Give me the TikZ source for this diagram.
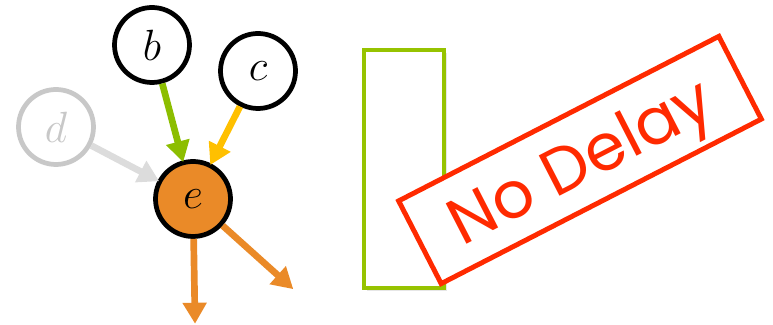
\documentclass[tikz,border=0pt]{standalone}
\usepackage{fontspec}
\newfontfamily\stampfont{Poppins}
\usepackage{tikz}
\usetikzlibrary{positioning}
\usetikzlibrary{arrows.meta}
\usetikzlibrary{shadows}

\definecolor{eorange}{RGB}{234,138,40}
\definecolor{bgreen}{RGB}{140,190,0}
\definecolor{slotgreen}{RGB}{150,195,0}
\definecolor{cyellow}{RGB}{255,192,0}
\definecolor{dgray}{RGB}{200,200,200}
\definecolor{dlight}{RGB}{220,220,220}
\definecolor{stampred}{RGB}{255,42,0}

\tikzset{
    var/.style={circle, draw=black, line width=2.7pt, fill=white, minimum size=1.5cm, inner sep=0pt, font=\fontsize{25}{28}\selectfont},
    edge/.style={line width=3.8pt, -{Triangle[length=0.42cm, width=0.46cm]}, shorten >=-1pt}
}

\begin{document}
\begin{tikzpicture}[on grid]
    \useasboundingbox (0,0) rectangle (15.46,6.5);

    \node [var, fill=eorange] (e) at (3.86,2.52) {$e$};
    \node [var, above left=3.08cm and 0.82cm of e] (b) {$b$};
    \node [var, above right=2.56cm and 1.30cm of e] (c) {$c$};
    \node [var, draw=dgray, text=dgray, above left=1.44cm and 2.74cm of e] (d) {$d$};

    \coordinate [below right=2.46cm and 0.04cm of e] (out1);
    \coordinate [below right=1.78cm and 1.98cm of e] (out2);

    \draw [edge, bgreen] (b) -- (e);
    \draw [edge, cyellow] (c) -- (e);
    \draw [edge, dlight] (d) -- (e);
    \draw [edge, eorange] (e) -- (out1);
    \draw [edge, eorange] (e) -- (out2);

    % the slot
    \node [draw=slotgreen, line width=2.6pt, fill=white, minimum width=1.6cm, minimum height=4.76cm, drop shadow={opacity=0.2, shadow xshift=0.06cm, shadow yshift=-0.06cm}] (slot) at (8.08,3.12) {};

    % the stamp
    \node [draw=stampred, fill=white, line width=2.8pt, minimum width=7.2cm, minimum height=1.86cm, rotate=27.2] (stamp) at (11.6,3.3) {};
    \node [text=stampred, rotate=27.2, font=\stampfont\fontsize{37}{40}\selectfont] (label) at (11.67,3.17) {No Delay};
\end{tikzpicture}
\end{document}
